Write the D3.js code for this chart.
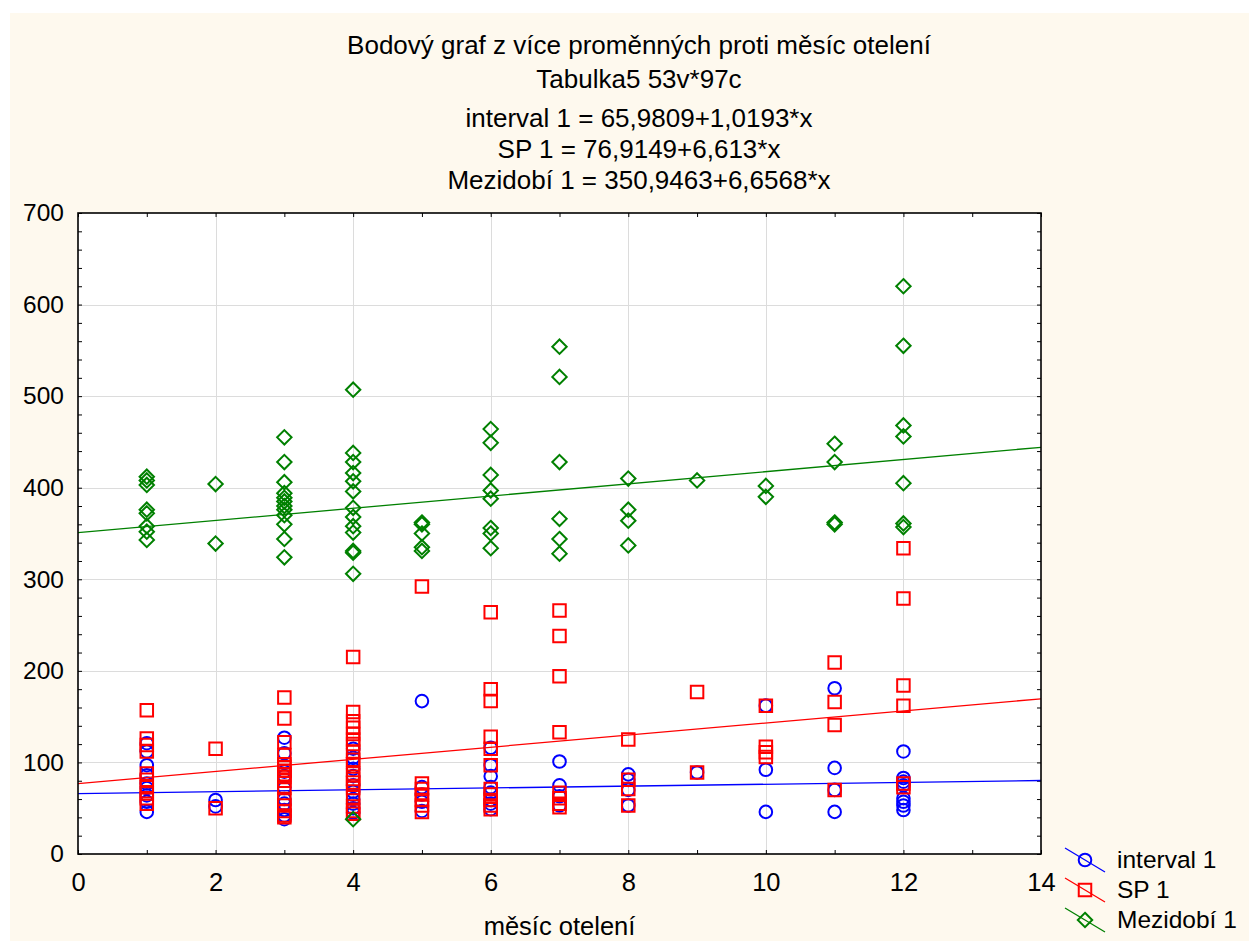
<!DOCTYPE html>
<html>
<head>
<meta charset="utf-8">
<script src="https://cdn.jsdelivr.net/npm/d3@7"></script>
<style>
  html, body { margin: 0; padding: 0; background: #fff; }
  svg text { font-family: "Liberation Sans", Arial, sans-serif; fill: #000; }
</style>
</head>
<body>
<div id="chart"></div>
<script>
(function(){

// ---- data ----
var months = [1, 2, 3, 4, 5, 6, 7, 8, 9, 10, 11, 12];

var intervalVals = {
  1: [121, 112, 97, 86, 77, 72, 64, 57, 46],
  2: [59, 52],
  3: [127, 110, 90, 85, 72, 60, 55, 48, 42, 38],
  4: [115, 105, 93, 85, 75, 68, 60, 55, 50, 45],
  5: [167, 73, 65, 57, 47],
  6: [116, 97, 85, 73, 67, 59, 55, 49],
  7: [101, 75, 63, 53],
  8: [87, 81, 70, 53],
  9: [89],
  10: [162, 92, 46],
  11: [181, 94, 70, 46],
  12: [112, 83, 79, 75, 61, 57, 53, 48]
};

var spVals = {
  1: [157, 126, 119, 112, 88, 81, 73, 66, 61, 55],
  2: [115, 50],
  3: [171, 148, 122, 108, 98, 95, 91, 87, 84, 80, 72, 60, 53, 47, 42, 40],
  4: [215, 155, 145, 138, 131, 125, 120, 112, 103, 98, 88, 82, 78, 72, 62, 52, 47, 44],
  5: [292, 77, 71, 65, 59, 53, 46],
  6: [264, 180, 167, 128, 115, 97, 71, 65, 59, 53, 49],
  7: [266, 238, 194, 133, 67, 61, 55, 51],
  8: [125, 81, 71, 53],
  9: [177, 89],
  10: [162, 117, 111, 106],
  11: [209, 166, 141, 70],
  12: [334, 279, 184, 162, 77, 73]
};

var mezVals = {
  1: [412, 408, 403, 376, 372, 358, 352, 343],
  2: [404, 339],
  3: [455, 428, 406, 394, 389, 385, 380, 376, 370, 360, 344, 324],
  4: [507, 438, 428, 416, 407, 396, 378, 368, 358, 351, 331, 329, 306, 38],
  5: [362, 360, 350, 335, 331],
  6: [464, 449, 414, 397, 388, 356, 350, 334],
  7: [554, 521, 428, 366, 344, 328],
  8: [410, 376, 364, 337],
  9: [408],
  10: [402, 390],
  11: [448, 428, 362, 360],
  12: [620, 555, 468, 456, 405, 361, 357]
};

// regression coefficients [intercept, slope]
var fits = {
  interval: [65.9809, 1.0193],
  sp: [76.9149, 6.613],
  mez: [350.9463, 6.6568]
};

var titleLines = [
  'Bodový graf z více proměnných proti měsíc otelení',
  'Tabulka5 53v*97c',
  'interval 1 = 65,9809+1,0193*x',
  'SP 1 = 76,9149+6,613*x',
  'Mezidobí 1 = 350,9463+6,6568*x'
];

var series = [
  {key: 'interval', name: 'interval 1', vals: intervalVals, color: '#0000ff', shape: 'circle'},
  {key: 'sp', name: 'SP 1', vals: spVals, color: '#ff0000', shape: 'square'},
  {key: 'mez', name: 'Mezidobí 1', vals: mezVals, color: '#008000', shape: 'diamond'}
];

// ---- layout ----
var width = 1249, height = 941;
var plot = {left: 78, right: 1041, top: 213, bottom: 854};
var fontFam = '"Liberation Sans", Arial, sans-serif';

var svg = d3.select('#chart').append('svg')
  .attr('width', width)
  .attr('height', height);

// beige page
svg.append('rect')
  .attr('x', 10).attr('y', 13)
  .attr('width', width - 10).attr('height', height - 13)
  .attr('fill', '#fef9ee');

var x = d3.scaleLinear().domain([0, 14]).range([plot.left, plot.right]);
var y = d3.scaleLinear().domain([0, 700]).range([plot.bottom, plot.top]);

// plot background
svg.append('rect')
  .attr('x', plot.left).attr('y', plot.top)
  .attr('width', plot.right - plot.left).attr('height', plot.bottom - plot.top)
  .attr('fill', '#fff');

// grid
var grid = svg.append('g').attr('stroke', '#dcdcdc').attr('stroke-width', 1);
grid.selectAll('line.gx').data(d3.range(2, 14, 2)).enter()
  .append('line')
  .attr('x1', function(d){ return Math.round(x(d)) + 0.5; })
  .attr('x2', function(d){ return Math.round(x(d)) + 0.5; })
  .attr('y1', plot.top).attr('y2', plot.bottom);
grid.selectAll('line.gy').data(d3.range(100, 700, 100)).enter()
  .append('line')
  .attr('y1', function(d){ return Math.round(y(d)) + 0.5; })
  .attr('y2', function(d){ return Math.round(y(d)) + 0.5; })
  .attr('x1', plot.left).attr('x2', plot.right);

// axes: ticks point inward on all four sides
var tk = 4;
function noDomain(g) { g.select('.domain').remove(); }
svg.append('g')
  .attr('transform', 'translate(0,' + plot.bottom + ')')
  .call(d3.axisTop(x).tickValues(d3.range(0, 15, 1)).tickSize(tk).tickFormat(''))
  .call(noDomain);
svg.append('g')
  .attr('transform', 'translate(0,' + plot.top + ')')
  .call(d3.axisBottom(x).tickValues(d3.range(0, 15, 1)).tickSize(tk).tickFormat(''))
  .call(noDomain);
svg.append('g')
  .attr('transform', 'translate(' + plot.left + ',0)')
  .call(d3.axisRight(y).tickValues(d3.range(0, 701, 20)).tickSize(tk).tickFormat(''))
  .call(noDomain);
svg.append('g')
  .attr('transform', 'translate(' + plot.right + ',0)')
  .call(d3.axisLeft(y).tickValues(d3.range(0, 701, 20)).tickSize(tk).tickFormat(''))
  .call(noDomain);

// tick labels
var xLab = svg.append('g')
  .attr('transform', 'translate(0,' + (plot.bottom + 19) + ')')
  .call(d3.axisBottom(x).tickValues(d3.range(0, 15, 2)).tickSize(0).tickPadding(0))
  .call(noDomain);
xLab.selectAll('text').attr('y', 0).attr('dy', '0.71em').style('font-size', '25.5px')
  .style('font-family', fontFam).attr('fill', '#000');

var yLab = svg.append('g')
  .attr('transform', 'translate(' + (plot.left - 14) + ',0)')
  .call(d3.axisLeft(y).tickValues(d3.range(0, 701, 100)).tickSize(0).tickPadding(0))
  .call(noDomain);
yLab.selectAll('text').style('font-size', '24.5px')
  .style('font-family', fontFam).attr('fill', '#000');

// regression lines + points, clipped to the plot
svg.append('clipPath').attr('id', 'clip')
  .append('rect')
  .attr('x', plot.left).attr('y', plot.top)
  .attr('width', plot.right - plot.left).attr('height', plot.bottom - plot.top);

var body = svg.append('g').attr('clip-path', 'url(#clip)');

function shapePath(shape) {
  if (shape === 'circle') return d3.symbol().type(d3.symbolCircle).size(Math.PI * 6.3 * 6.3)();
  if (shape === 'square') return d3.symbol().type(d3.symbolSquare).size(12.5 * 12.5)();
  return 'M0,-7.2L7.2,0L0,7.2L-7.2,0Z';
}

series.forEach(function(s) {
  var pts = [];
  months.forEach(function(m) {
    (s.vals[m] || []).forEach(function(v) { pts.push([m, v]); });
  });

  var f = fits[s.key];
  var line = d3.line().x(function(d){ return x(d); }).y(function(d){ return y(f[0] + f[1] * d); });
  body.append('path')
    .datum([0, 14])
    .attr('d', line)
    .attr('fill', 'none')
    .attr('stroke', s.color)
    .attr('stroke-width', 1.3);

  body.selectAll('path.pt-' + s.key).data(pts).enter()
    .append('path')
    .attr('class', 'pt-' + s.key)
    .attr('transform', function(d){ return 'translate(' + x(d[0]) + ',' + y(d[1]) + ')'; })
    .attr('d', shapePath(s.shape))
    .attr('fill', 'none')
    .attr('stroke', s.color)
    .attr('stroke-width', 2);
});

// frame
svg.append('rect')
  .attr('x', plot.left).attr('y', plot.top)
  .attr('width', plot.right - plot.left).attr('height', plot.bottom - plot.top)
  .attr('fill', 'none')
  .attr('stroke', '#000')
  .attr('stroke-width', 1.6);

// titles
var titleY = [54, 88, 127, 158, 189];
svg.selectAll('text.title').data(titleLines).enter()
  .append('text')
  .attr('class', 'title')
  .attr('x', 639)
  .attr('y', function(d, i){ return titleY[i]; })
  .attr('text-anchor', 'middle')
  .style('font-size', '26px')
  .text(function(d){ return d; });

// x axis title
svg.append('text')
  .attr('x', (plot.left + plot.right) / 2)
  .attr('y', 935)
  .attr('text-anchor', 'middle')
  .style('font-size', '25.5px')
  .text('měsíc otelení');

// legend
var leg = svg.selectAll('g.legend').data(series).enter()
  .append('g')
  .attr('class', 'legend')
  .attr('transform', function(d, i){ return 'translate(1085,' + (860 + i * 30) + ')'; });

leg.append('line')
  .attr('x1', -20).attr('y1', -12).attr('x2', 20).attr('y2', 12)
  .attr('stroke', function(d){ return d.color; })
  .attr('stroke-width', 1.3);
leg.append('path')
  .attr('d', function(d){ return shapePath(d.shape); })
  .attr('fill', 'none')
  .attr('stroke', function(d){ return d.color; })
  .attr('stroke-width', 2);
leg.append('text')
  .attr('x', 32)
  .attr('y', 8)
  .style('font-size', '24.5px')
  .text(function(d){ return d.name; });

})();
</script>
</body>
</html>
